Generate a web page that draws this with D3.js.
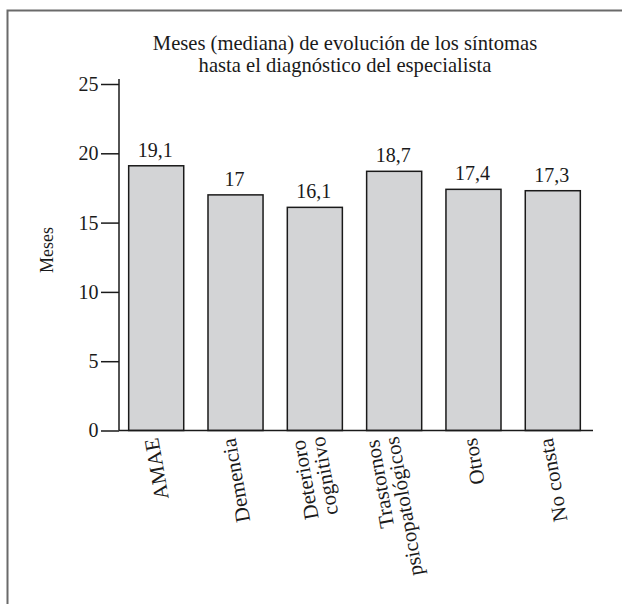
<!DOCTYPE html>
<html>
<head>
<meta charset="utf-8">
<script src="https://cdn.jsdelivr.net/npm/d3@7"></script>
<style>
  body { margin: 0; background: #fff; }
  text { font-family: "Liberation Serif", "Times New Roman", serif; fill: #1a1a1a; }
</style>
</head>
<body>
<div id="chart"></div>
<script>
// Datos del gráfico
const categories = ["AMAE", "Demencia", "Deterioro\ncognitivo", "Trastornos\npsicopatológicos", "Otros", "No consta"];
const values = [19.1, 17, 16.1, 18.7, 17.4, 17.3];
const yTicks = [0, 5, 10, 15, 20, 25];
const titleLines = ["Meses (mediana) de evolución de los síntomas", "hasta el diagnóstico del especialista"];
const yLabel = "Meses";

const W = 622, H = 604;

// formato con coma decimal
const es = d3.formatLocale({decimal: ",", thousands: ".", grouping: [3], currency: ["", "€"]});
const fmt = v => Number.isInteger(v) ? String(v) : es.format(".1f")(v);

const svg = d3.select("#chart").append("svg")
    .attr("width", W)
    .attr("height", H);

// marco
svg.append("rect")
    .attr("x", 7.5).attr("y", 10.5)
    .attr("width", 700).attr("height", 700)
    .attr("fill", "none")
    .attr("stroke", "#6a6a6a")
    .attr("stroke-width", 2);

const x = d3.scaleBand()
    .domain(categories)
    .range([119, 590])
    .paddingInner(0.306)
    .paddingOuter(0.122);

const y = d3.scaleLinear()
    .domain([0, 25])
    .range([430.5, 84]);

// eje Y
const yAxis = svg.append("g")
    .attr("transform", "translate(119,0)")
    .call(d3.axisLeft(y).tickValues(yTicks).tickSize(18).tickPadding(2.5).tickSizeOuter(0))
    .attr("font-family", '"Liberation Serif", serif')
    .attr("font-size", 20);
yAxis.select(".domain").remove();
yAxis.selectAll(".tick line").attr("stroke", "#1a1a1a").attr("stroke-width", 1.5);
yAxis.selectAll(".tick text")
    .style("font-size", "20px")
    .attr("fill", "#1a1a1a");

svg.append("line")
    .attr("x1", 119).attr("x2", 119)
    .attr("y1", y(25) - 5).attr("y2", y(0))
    .attr("stroke", "#1a1a1a").attr("stroke-width", 1.5);

// barras
svg.append("g")
    .selectAll("rect")
    .data(values)
    .join("rect")
    .attr("x", (d, i) => x(categories[i]))
    .attr("y", d => y(d))
    .attr("width", x.bandwidth())
    .attr("height", d => y(0) - y(d))
    .attr("fill", "#d3d4d6")
    .attr("stroke", "#1a1a1a")
    .attr("stroke-width", 1.5);

// línea base
svg.append("line")
    .attr("x1", 119).attr("x2", 593)
    .attr("y1", y(0)).attr("y2", y(0))
    .attr("stroke", "#1a1a1a").attr("stroke-width", 1.5);

// valores
svg.append("g")
    .selectAll("text")
    .data(values)
    .join("text")
    .attr("x", (d, i) => x(categories[i]) + x.bandwidth() / 2 - 1)
    .attr("y", d => y(d) - 9)
    .attr("text-anchor", "middle")
    .style("font-size", "20px")
    .text(d => fmt(d));

// etiquetas del eje X (rotadas)
const ang = -100;
const labels = svg.append("g")
    .selectAll("text")
    .data(categories)
    .join("text")
    .attr("text-anchor", "end")
    .style("font-size", "21px");

labels.each(function(c) {
    const lines = c.split("\n");
    const t = d3.select(this);
    const n = lines.length;
    lines.forEach((l, j) => {
        t.append("tspan")
            .attr("x", 0)
            .attr("dy", j === 0 ? (0.35 - (n - 1) * 0.5) + "em" : "0.95em")
            .text(l);
    });
    let maxL = 0;
    t.selectAll("tspan").each(function() { maxL = Math.max(maxL, this.getComputedTextLength()); });
    const cx = x(c) + x.bandwidth() / 2;
    const ex = cx - 0.087 * maxL;
    t.attr("transform", `translate(${ex},${y(0) + 8}) rotate(${ang})`);
});

// título
svg.append("text")
    .attr("x", 345)
    .attr("y", 49.5)
    .attr("text-anchor", "middle")
    .style("font-size", "20.6px")
    .selectAll("tspan")
    .data(titleLines)
    .join("tspan")
    .attr("x", 345)
    .attr("dy", (d, i) => i === 0 ? 0 : 22)
    .text(d => d);

// título eje Y
svg.append("text")
    .attr("transform", "translate(52.5,250) rotate(-90)")
    .attr("text-anchor", "middle")
    .style("font-size", "18px")
    .text(yLabel);
</script>
</body>
</html>
